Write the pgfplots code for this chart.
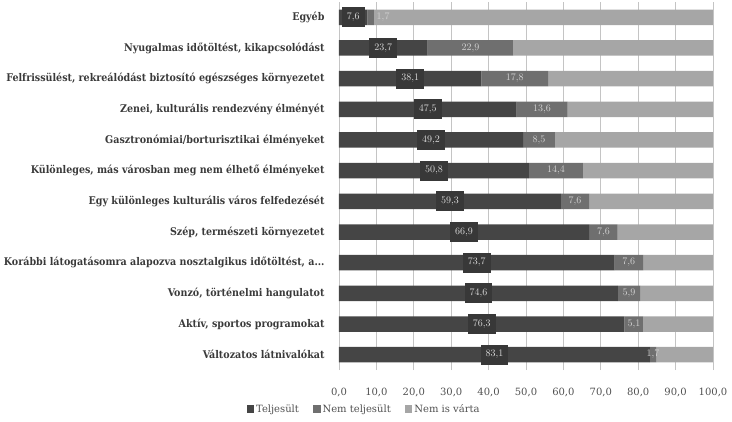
\documentclass[border=0pt]{standalone}
\usepackage{pgfplots}
\pgfplotsset{compat=1.18}
\usepackage{pgfplotstable}
\usepackage{fontspec}
\setmainfont{DejaVu Serif}
\newfontfamily\catfont{DejaVu Serif Condensed}
\definecolor{cA}{HTML}{454545}
\definecolor{cB}{HTML}{6F6F6F}
\definecolor{cC}{HTML}{A6A6A6}
\definecolor{boxc}{HTML}{383838}
\definecolor{labc}{HTML}{DADADA}
\definecolor{lab2c}{HTML}{D2D2D2}
\definecolor{gridc}{HTML}{C4C4C4}
\definecolor{tickc}{HTML}{505050}
\definecolor{catc}{HTML}{3A3A3A}
\newcommand{\dotsx}{.\kern0pt.\kern0pt.}

\pgfplotstableread[col sep=comma]{
y,a,b,c,bpos
0,83.1,1.7,15.2,83.95
1,76.3,5.1,18.6,78.85
2,74.6,5.9,19.5,77.55
3,73.7,7.6,18.7,77.5
4,66.9,7.6,25.5,70.7
5,59.3,7.6,33.1,63.1
6,50.8,14.4,34.8,58.0
7,49.2,8.5,42.3,53.45
8,47.5,13.6,38.9,54.3
9,38.1,17.8,44.1,47.0
10,23.7,22.9,53.4,35.15
11,7.6,1.7,90.7,11.8
}\data

\begin{document}
\begin{tikzpicture}
\useasboundingbox (-339pt,-51pt) rectangle (393pt,370pt);
\begin{axis}[
  at={(0,0)}, anchor=south west,
  width=374pt, height=368pt, scale only axis,
  xbar stacked, bar width=15.5pt,
  xmin=0, xmax=100, ymin=-0.5, ymax=11.5,
  xtick={0,10,20,30,40,50,60,70,80,90,100},
  xticklabels={{0,0},{10,0},{20,0},{30,0},{40,0},{50,0},{60,0},{70,0},{80,0},{90,0},{100,0}},
  ytick={0,1,2,3,4,5,6,7,8,9,10,11},
  yticklabels={Változatos látnivalókat,{Aktív, sportos programokat},{Vonzó, történelmi hangulatot},{Korábbi látogatásomra alapozva nosztalgikus időtöltést, a\dotsx},{Szép, természeti környezetet},Egy különleges kulturális város felfedezését,{Különleges, más városban meg nem élhető élményeket},Gasztronómiai/borturisztikai élményeket,{Zenei, kulturális rendezvény élményét},{Felfrissülést, rekreálódást biztosító egészséges környezetet},{Nyugalmas időtöltést, kikapcsolódást},Egyéb},
  xmajorgrids, grid style={draw=gridc, line width=0.7pt},
  axis line style={draw=none},
  major tick length=0pt,
  x tick label style={font=\fontsize{10}{12}\selectfont, text=tickc, yshift=-15pt},
  y tick label style={font=\catfont\bfseries\fontsize{10.6}{12}\selectfont, text=catc, xshift=-11pt},
  legend image code/.code={\fill[#1] (0pt,-3.8pt) rectangle (7.6pt,3.8pt);},
  legend style={at={(0.067,-0.106)}, anchor=center, draw=none, fill=none,
    legend columns=-1, font=\fontsize{10}{12}\selectfont, text=tickc,
    /tikz/every even column/.append style={column sep=12pt},
    /tikz/every odd column/.append style={column sep=0pt}},
]
\addplot[fill=cA, draw=none] table[x=a, y=y]{\data};
\addplot[fill=cB, draw=none] table[x=b, y=y]{\data};
\addplot[fill=cC, draw=none] table[x=c, y=y]{\data};
\legend{Teljesült, Nem teljesült, Nem is várta}
\end{axis}
\begin{axis}[
  at={(0,0)}, anchor=south west,
  width=374pt, height=368pt, scale only axis,
  xmin=0, xmax=100, ymin=-0.5, ymax=11.5,
  hide axis, clip=false,
]
\addplot[only marks, mark=none, point meta=explicit,
  nodes near coords={\pgfmathprintnumber[fixed,fixed zerofill,precision=1,use comma]{\pgfplotspointmeta}},
  every node near coord/.append style={anchor=center, fill=boxc, text=labc,
    font=\fontsize{10}{11}\selectfont, inner xsep=5pt, inner ysep=0pt, minimum height=20pt}]
  table[x expr=\thisrow{a}/2, y=y, meta=a]{\data};
\addplot[only marks, mark=none, point meta=explicit,
  nodes near coords={\pgfmathprintnumber[fixed,fixed zerofill,precision=1,use comma]{\pgfplotspointmeta}},
  every node near coord/.append style={anchor=center, text=lab2c,
    font=\fontsize{10}{11}\selectfont, inner sep=0pt}]
  table[x=bpos, y=y, meta=b]{\data};
\end{axis}
\end{tikzpicture}
\end{document}
